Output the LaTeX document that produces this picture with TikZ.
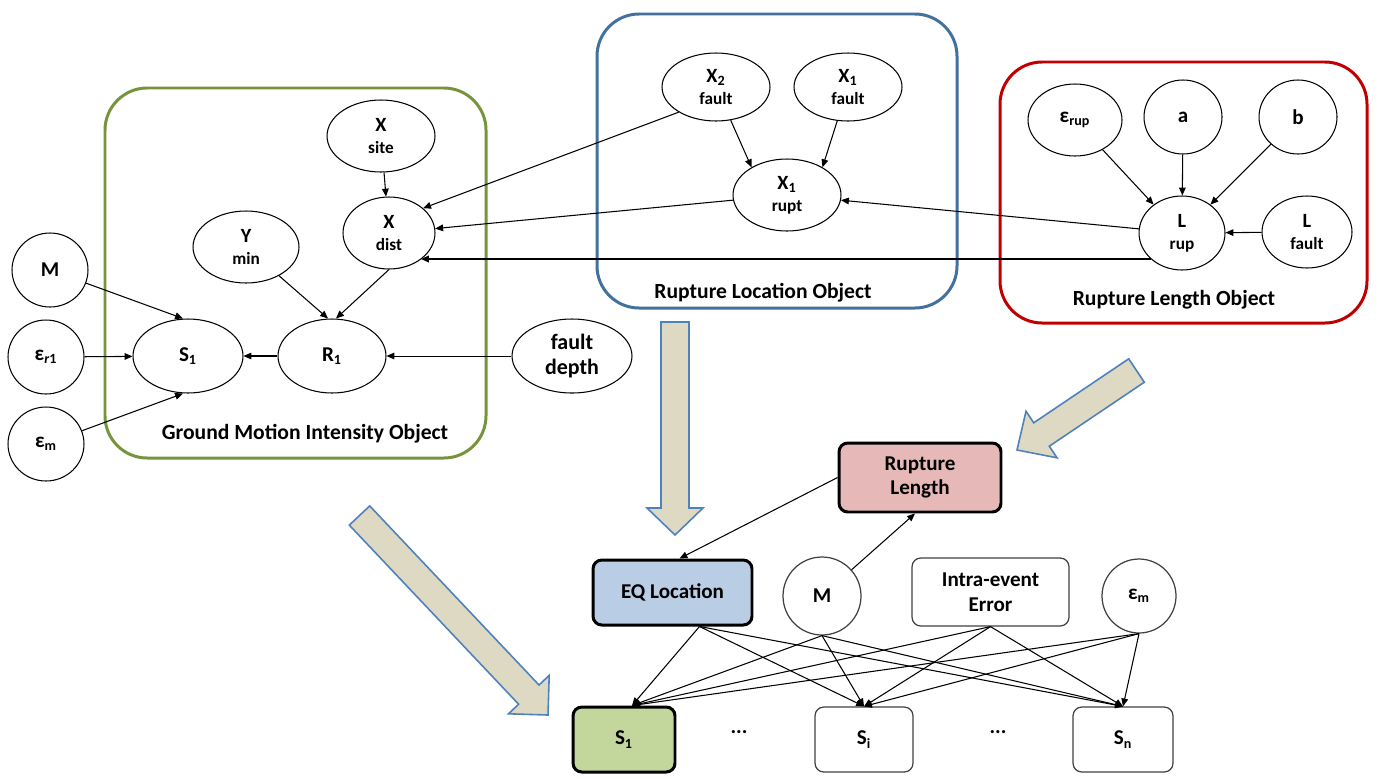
\documentclass[tikz,border=0pt]{standalone}
\usepackage{fontspec}
\setmainfont{Carlito}
\usetikzlibrary{arrows.meta,calc,shapes.geometric}

\definecolor{gmgreen}{HTML}{77933C}
\definecolor{locblue}{HTML}{41719C}
\definecolor{lenred}{HTML}{C00000}
\definecolor{tanfill}{HTML}{DDD9C3}
\definecolor{tanedge}{HTML}{4F81BD}
\definecolor{pinkfill}{HTML}{E6B9B8}
\definecolor{bluefill}{HTML}{B9CDE5}
\definecolor{greenfill}{HTML}{C3D69B}

% second line of a variable name, set smaller
\newcommand\lowtag[1]{{\fontsize{9.8}{12.5}\selectfont #1}}

\begin{document}
\begin{tikzpicture}[x=0.02cm,y=-0.02cm,
  var/.style={draw, ellipse, inner sep=0pt, line width=0.6pt, align=center,
    font=\bfseries\fontsize{11.5}{12.5}\selectfont},
  bigvar/.style={var, font=\bfseries\fontsize{12}{13}\selectfont},
  sz/.style 2 args={minimum width=#1cm, minimum height=#2cm},
  objbox/.style={line width=1.7pt, rounded corners=24pt},
  objlabel/.style={font=\bfseries\fontsize{12.3}{14}\selectfont},
  strongbox/.style={draw, line width=1.7pt, rounded corners=5pt, align=center,
    font=\bfseries\fontsize{12}{14}\selectfont},
  plainbox/.style={draw=black!75, line width=0.7pt, rounded corners=5pt, align=center,
    font=\bfseries\fontsize{12}{14}\selectfont},
  edge/.style={line width=0.6pt, -{Triangle[length=4.5pt,width=3.8pt]}},
  blockarrow/.style={fill=tanfill, draw=tanedge, line width=0.9pt, line join=miter}
]
\useasboundingbox (0,0) rectangle (1378,778);

% ---------- object frames ----------
\draw[objbox, draw=gmgreen] (105,88) rectangle (486,458);
\draw[objbox, draw=locblue] (597,14) rectangle (957,308);
\draw[objbox, draw=lenred] (1000,62) rectangle (1367,323);

\node[objlabel] (gmlabel) at (305,434) {Ground Motion Intensity Object};
\node[objlabel] (rloclabel) at (763,293) {Rupture Location Object};
\node[objlabel] (rlenlabel) at (1174,300) {Rupture Length Object};

% ---------- ground motion intensity object ----------
\node[var, sz={2.16}{1.44}] (xs) at (381,136) {X\\\lowtag{site}};
\node[var, sz={1.84}{1.44}] (xd) at (389,233) {X\\\lowtag{dist}};
\node[var, sz={2.12}{1.44}] (ym) at (246,247) {Y\\\lowtag{min}};
\node[bigvar, sz={1.52}{1.48}] (m1) at (50,270) {M};
\node[bigvar, sz={1.52}{1.48}] (er1) at (46,357) {ε\textsubscript{\textit{r}1}};
\node[bigvar, sz={1.52}{1.48}] (em1) at (46,444) {ε\textsubscript{m}};
\node[bigvar, sz={2.2}{1.48}] (s1) at (188,356) {S\textsubscript{1}};
\node[bigvar, sz={2.16}{1.48}] (r1) at (332,356) {R\textsubscript{1}};
\node[var, sz={2.4}{1.48}, font=\bfseries\fontsize{12.5}{14}\selectfont] (fd) at (572,356) {fault\\depth};

% ---------- rupture location object ----------
\node[var, sz={2.16}{1.36}] (x2f) at (716,87) {X\textsubscript{2}\\\lowtag{fault}};
\node[var, sz={2.16}{1.36}] (x1f) at (848,87) {X\textsubscript{1}\\\lowtag{fault}};
\node[var, sz={2.16}{1.44}] (xr) at (787,195) {X\textsubscript{1}\\\lowtag{rupt}};

% ---------- rupture length object ----------
\node[bigvar, sz={1.88}{1.44}] (erup) at (1075,120) {ε\textsubscript{rup}};
\node[bigvar, sz={1.56}{1.48}] (pa) at (1183,117) {a};
\node[bigvar, sz={1.56}{1.48}] (pb) at (1298,117) {b};
\node[var, sz={1.72}{1.48}] (lr) at (1182,233) {L\\\lowtag{rup}};
\node[var, sz={1.8}{1.44}] (lf) at (1307,232) {L\\\lowtag{fault}};

% ---------- links inside and between the objects ----------
\draw[edge] (xs) -- (xd);
\draw[edge] (x2f.214) -- (xd.36);
\draw[edge] (xr) -- (xd);
\draw[edge, line width=0.9pt] ($(lr.center)+(-31,26)$) -- ($(xd.center)+(32,26)$);
\draw[edge] (lr) -- (xr);
\draw[edge] (x2f) -- (xr.142);
\draw[edge] (x1f) -- (xr.38);
\draw[edge] (erup) -- (lr.135);
\draw[edge] (pa) -- (lr);
\draw[edge] (pb) -- (lr.45);
\draw[edge] (lf) -- (lr);
\draw[edge] (ym) -- ($(r1.north)+(-4,0)$);
\draw[edge] (xd.south) -- ($(r1.north)+(4,0)$);
\draw[edge, line width=0.5pt] (fd) -- (r1);
\draw[edge] (r1) -- (s1);
\draw[edge] (m1) -- ($(s1.north)+(-5,0)$);
\draw[edge] (er1) -- (s1);
\draw[edge] (em1) -- ($(s1.south)+(-5,0)$);

% ---------- block arrows into the site network ----------
\draw[blockarrow] (661,322) -- (689,322) -- (689,508) -- (703,508) -- (675,535)
  -- (647,508) -- (661,508) -- cycle;
\draw[blockarrow] (369.7,505.9) -- (539.0,685.0) -- (549.2,675.4) -- (548,715)
  -- (508.5,713.8) -- (518.6,704.2) -- (349.3,525.1) -- cycle;
\draw[blockarrow] (1128.7,358.8) -- (1144.3,382.2) -- (1049.3,446.2) -- (1057.0,457.8)
  -- (1017,450) -- (1026.0,411.2) -- (1033.7,422.8) -- cycle;

% ---------- site network ----------
\node[strongbox, fill=pinkfill, minimum width=3.24cm, minimum height=1.38cm] (rl) at (920,477.5) {Rupture\\Length};
\node[strongbox, fill=bluefill, minimum width=3.18cm, minimum height=1.3cm] (eq) at (672.5,592.5) {EQ Location};
\node[draw=black!75, circle, line width=0.7pt, minimum size=1.56cm, inner sep=0pt,
  font=\bfseries\fontsize{12}{14}\selectfont] (m2) at (822,596) {M};
\node[plainbox, minimum width=3.14cm, minimum height=1.36cm] (ie) at (990.5,592) {Intra-event\\Error};
\node[draw=black!75, circle, line width=0.7pt, minimum size=1.48cm, inner sep=0pt,
  font=\bfseries\fontsize{12}{14}\selectfont] (em2) at (1139,596) {ε\textsubscript{m}};

\node[strongbox, fill=greenfill, minimum width=2.04cm, minimum height=1.3cm] (sb1) at (624,739.5) {S\textsubscript{1}};
\node[plainbox, minimum width=1.96cm, minimum height=1.3cm] (sbi) at (864,739.5) {S\textsubscript{i}};
\node[plainbox, minimum width=2.0cm, minimum height=1.3cm] (sbn) at (1123,739.5) {S\textsubscript{n}};
\node[font=\bfseries\fontsize{12}{14}\selectfont] (dots1) at (739,732) {...};
\node[font=\bfseries\fontsize{12}{14}\selectfont] (dots2) at (998,732) {...};

\draw[edge] (rl.west) -- ($(eq.north)+(7,0)$);
\draw[edge] (m2) -- ($(rl.south)+(-5,0)$);
\foreach \src/\off in {eq/27, m2/0, ie/0, em2/0} {
  \draw[edge] ($(\src.south)+(\off,0)$) -- ($(sb1.north)+(8,0)$);
  \draw[edge] ($(\src.south)+(\off,0)$) -- (sbi.north);
  \draw[edge] ($(\src.south)+(\off,0)$) -- (sbn.north);
}
\end{tikzpicture}
\end{document}
